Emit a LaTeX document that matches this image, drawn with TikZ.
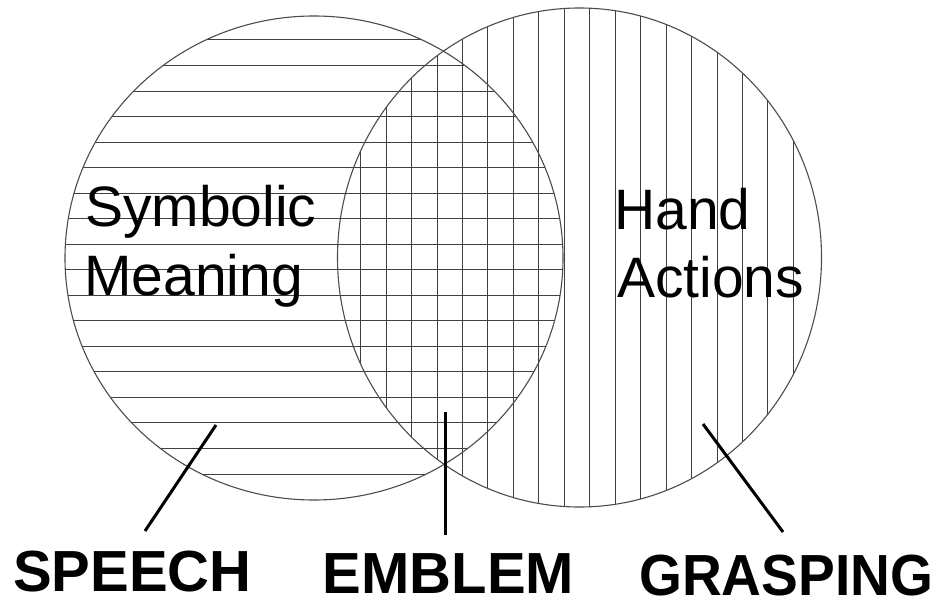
\documentclass[tikz,border=0pt]{standalone}
\usepackage{fontspec}
\setmainfont{Liberation Sans}
\begin{document}
\begin{tikzpicture}[x=1pt,y=-1pt,
  hatch/.style={draw=black!75,line width=1pt},
  rim/.style={draw=black!70,line width=1.1pt},
  pointer/.style={draw=black,line width=3pt},
  areatext/.style={inner sep=0pt,anchor=base west,font=\fontsize{57}{68}\selectfont},
  settext/.style={inner sep=0pt,anchor=base west,text depth=0pt,text height=44pt,font=\fontsize{58}{68}\selectfont\bfseries}]
\useasboundingbox (0,0) rectangle (944,601);
% hatching of the left set
\begin{scope}
  \clip (314,258) ellipse [x radius=249pt, y radius=242pt];
  \foreach \k in {0,...,17}
    \draw[hatch] (40,{40+25.53*\k}) -- (580,{40+25.53*\k});
\end{scope}
% hatching of the right set
\begin{scope}
  \clip (579.5,257.5) ellipse [x radius=242pt, y radius=249.5pt];
  \foreach \k in {0,...,17}
    \draw[hatch] ({360.7+25.45*\k},0) -- ({360.7+25.45*\k},520);
\end{scope}
% outlines
\draw[rim] (314,258) ellipse [x radius=249pt, y radius=242pt];
\draw[rim] (579.5,257.5) ellipse [x radius=242pt, y radius=249.5pt];
% texts inside
\node[areatext] (sym) at (85,227) {Symbolic};
\node[areatext] (mea) at (84,295) {Meaning};
\node[areatext] (hand) at (614,230) {Hand};
\node[areatext] (act) at (617,298) {Actions};
% labels
\node[settext] (speech) at (13,591.7) {SPEECH};
\node[settext] (emblem) at (322.5,593) {EMBLEM};
\node[settext,xscale=0.95] (grasp) at (639,595) {GRASPING};
% pointers
\coordinate (ps) at (216,425);
\coordinate (pe) at (445,412);
\coordinate (pg) at (703,424);
\coordinate (ls) at (145,531);
\coordinate (le) at (445,535);
\coordinate (lg) at (783,532);
\draw[pointer] (ps) -- (ls);
\draw[pointer] (pe) -- (le);
\draw[pointer] (pg) -- (lg);
\end{tikzpicture}
\end{document}
